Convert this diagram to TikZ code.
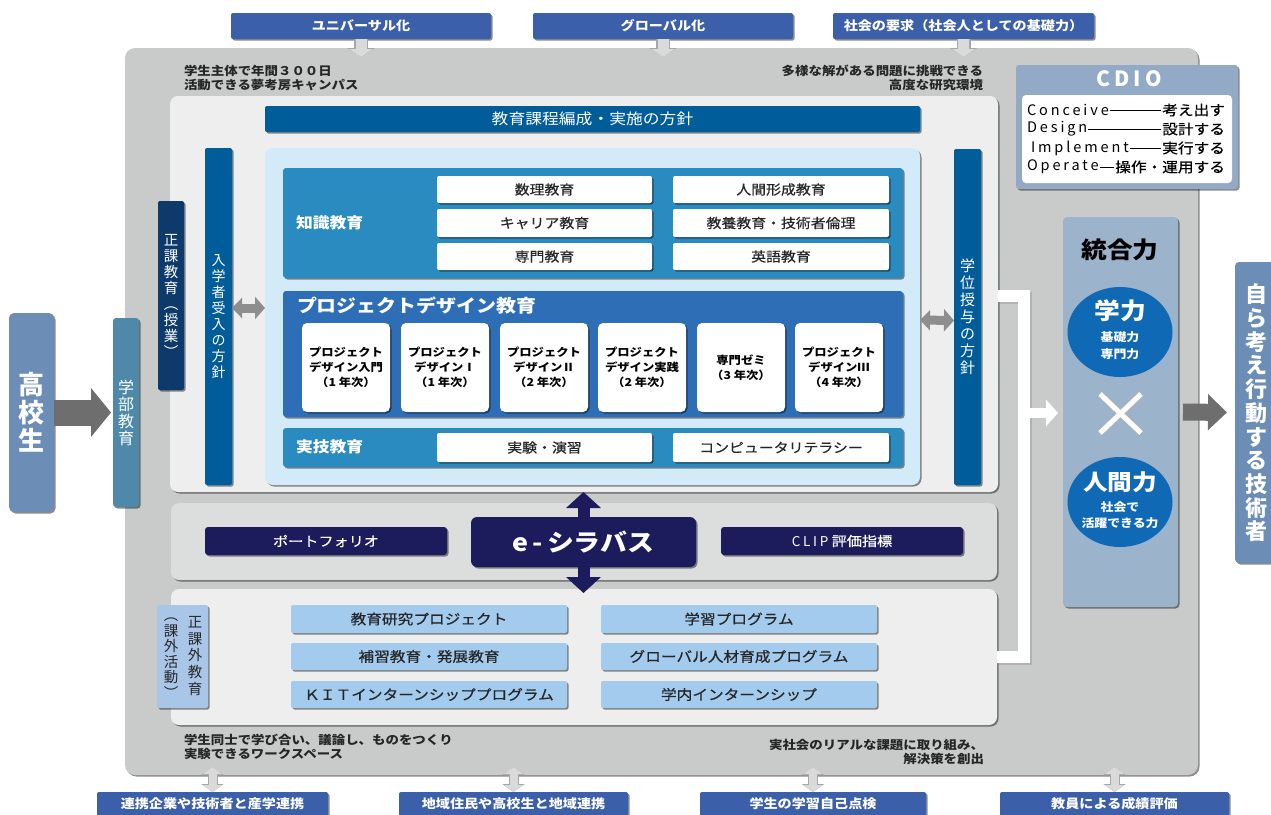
\documentclass[tikz,border=0pt]{standalone}
\usepackage{fontspec}
\setmainfont{Noto Sans CJK JP}[FakeStretch=1.12]
\newfontfamily\medfont{Noto Sans CJK JP}[FakeStretch=1.12,FakeBold=0.5]
\newfontfamily\vfont{Noto Sans CJK JP}
\newfontfamily\lsfont{Noto Sans CJK JP}[LetterSpace=20]
\usetikzlibrary{arrows.meta,shadows,shapes.geometric,calc}
\definecolor{topblue}{HTML}{3C5FA9}
\definecolor{panelgray}{HTML}{C9CACA}
\definecolor{lightpanel}{HTML}{EEEEEE}
\definecolor{midpanel}{HTML}{DCDDDD}
\definecolor{policy}{HTML}{005D9A}
\definecolor{navybar}{HTML}{0E3A6B}
\definecolor{lightblue}{HTML}{D3EAF8}
\definecolor{kblue}{HTML}{2A8BC1}
\definecolor{pdblue}{HTML}{2E6EB6}
\definecolor{navy}{HTML}{1C1C5C}
\definecolor{progblue}{HTML}{A2CBEE}
\definecolor{extrablue}{HTML}{A9C6E8}
\definecolor{steel}{HTML}{6B8DB6}
\definecolor{gakubucol}{HTML}{4E89AA}
\definecolor{togocol}{HTML}{9CB3CC}
\definecolor{circ}{HTML}{1069B5}
\definecolor{cdio}{HTML}{93AAC7}
\definecolor{arrowgray}{HTML}{6E6E6E}
\definecolor{midgray}{HTML}{8E8E8E}
\definecolor{palegray}{HTML}{DADADA}
\newcommand\myfs[2]{\fontsize{#1}{#2}\selectfont}
\newcommand\dbox[7]{\node[#6,minimum width={(#4-#2)*1pt},minimum height={(#5-#3)*1pt}] (#1) at ({(#2+#4)/2},{(#3+#5)/2}) {#7};}
\tikzset{
 base/.style={inner sep=0pt,outer sep=0pt,align=center},
 sh/.style={drop shadow={shadow xshift=1.5pt,shadow yshift=-1.5pt,opacity=.45,fill=black}},
 topbox/.style={base,fill=topblue,rounded corners=2pt,sh,text=white,font=\myfs{12.6}{14}\bfseries},
 note/.style={base,font=\myfs{12}{14}\bfseries,text=black!85},
 vbar/.style={base,rounded corners=2pt,text=white,sh},
 subbox/.style={base,fill=white,rounded corners=2pt,sh,text=black!85,font=\medfont\myfs{13.3}{15}},
 projbox/.style={base,fill=white,rounded corners=5pt,sh,text=black,font=\myfs{11}{15}\bfseries},
 navybox/.style={base,fill=navy,rounded corners=3pt,sh,text=white},
 progbox/.style={base,fill=progblue,rounded corners=2pt,sh,text=black!85,font=\medfont\myfs{14}{16}},
 panel/.style={base,rounded corners=8pt,sh},
 lbl/.style={base,text=white,font=\myfs{15}{17}\bfseries,anchor=west},
 cdl/.style={base,anchor=west,font=\lsfont\myfs{14.5}{16}},
 cdj/.style={base,anchor=east,font=\medfont\myfs{14}{15}},
 bigarr/.style={draw=arrowgray,line width=26pt,-{Triangle[length=20pt,width=48pt]}},
 dkarr/.style={draw=arrowgray,line width=17pt,-{Triangle[length=19pt,width=35pt]}},
 grarr/.style={draw=midgray,line width=9pt,{Triangle[length=10pt,width=20pt]}-{Triangle[length=10pt,width=22pt]}},
 navarr/.style={draw=navy,line width=12pt,-{Triangle[length=16pt,width=34pt]}},
 toparrO/.style={draw=black!35,line width=14pt,-{Triangle[length=9pt,width=27pt]}},
 toparr/.style={draw=palegray,line width=11pt,-{Triangle[length=8pt,width=23pt]}},
 botarrO/.style={draw=black!35,line width=10pt,{Triangle[length=8pt,width=22pt]}-{Triangle[length=8pt,width=22pt]}},
 botarr/.style={draw=palegray,line width=8pt,{Triangle[length=7pt,width=19pt]}-{Triangle[length=7pt,width=19pt]}},
 whitearr/.style={draw=white,line width=10pt,-{Triangle[length=12pt,width=26pt]}},
}
\begin{document}
\begin{tikzpicture}[x=1pt,y=-1pt]
\useasboundingbox (0,0) rectangle (1271,814);
% big panel
\dbox{big}{125}{48}{1198}{775}{base,fill=panelgray,rounded corners=10pt,sh}{}
% top boxes
\dbox{t1}{231}{13}{491}{39}{topbox}{ユニバーサル化}
\dbox{t2}{533}{13}{793}{39}{topbox}{グローバル化}
\dbox{t3}{833}{13}{1094}{39}{topbox}{社会の要求（社会人としての基礎力）}
\coordinate (ta1) at ($(t1.south)+(0,18)$);
\coordinate (ta2) at ($(t2.south)+(0,18)$);
\coordinate (ta3) at ($(t3.south)+(0,18)$);
\foreach \i in {1,2,3}{\draw[toparrO] (t\i.south) -- (ta\i); \draw[toparr] (t\i.south) -- (ta\i);}
% notes
\node[note,anchor=west,align=left] (n1) at (184,78) {学生主体で年間３００日\\活動できる夢考房キャンパス};
\node[note,anchor=east,align=right] (n2) at (983,78) {多様な解がある問題に挑戦できる\\高度な研究環境};
\node[note,anchor=west,align=left] (n3) at (184,747) {学生同士で学び合い、議論し、ものをつくり\\実験できるワークスペース};
\node[note,anchor=east,align=right] (n4) at (984,752) {実社会のリアルな課題に取り組み、\\解決策を創出};
% CDIO
\dbox{cdio}{1016}{65}{1238}{189}{base,fill=cdio,rounded corners=3pt,sh}{}
\node[base,text=white,font=\lsfont\myfs{21}{24}\bfseries] (cdiot) at (1129,79) {CDIO};
\dbox{cdioin}{1022}{95}{1232}{183}{base,fill=white,rounded corners=4pt}{}
\node[cdl] (ca) at (1027,110) {Conceive};
\node[cdj] (caj) at (1225,110) {考え出す};
\node[cdl] (cb) at (1027,129) {Design};
\node[cdj] (cbj) at (1225,129) {設計する};
\node[cdl] (cc) at (1031,148) {Implement};
\node[cdj] (ccj) at (1225,148) {実行する};
\node[cdl] (cd) at (1027,167) {Operate};
\node[cdj] (cdj) at (1225,167) {操作・運用する};
\foreach \a in {a,b,c,d}{\draw[line width=0.6pt,shorten <=1pt,shorten >=1pt] (c\a.east) -- (c\a j.west);}
% upper panel
\dbox{upper}{170}{96}{998}{492}{panel,fill=lightpanel}{}
\dbox{policy}{265}{106}{920}{132}{base,fill=policy,rounded corners=2pt,sh,text=white,font=\myfs{15}{17}}{教育課程編成・実施の方針}
\dbox{seika}{158}{201}{184}{390}{vbar,fill=navybar,font=\vfont\myfs{14.5}{16}}{正\\課\\教\\育\\︵\\授\\業\\︶}
\dbox{nyu}{205}{148}{232}{485}{vbar,fill=policy,font=\vfont\myfs{14}{16}}{入\\学\\者\\受\\入\\の\\方\\針}
\dbox{gakui}{954}{149}{981}{485}{vbar,fill=policy,font=\vfont\myfs{15}{17}}{学\\位\\授\\与\\の\\方\\針}
\dbox{lb}{265}{148}{920}{485}{panel,fill=lightblue}{}
% knowledge
\dbox{chishiki}{283}{168}{903}{278}{base,fill=kblue,rounded corners=3pt,sh}{}
\node[lbl] (chl) at (296,223) {知識教育};
\dbox{k1}{437}{176}{652}{203}{subbox}{数理教育}
\dbox{k2}{673}{176}{889}{203}{subbox}{人間形成教育}
\dbox{k3}{437}{209}{652}{237}{subbox}{キャリア教育}
\dbox{k4}{673}{209}{889}{237}{subbox}{教養教育・技術者倫理}
\dbox{k5}{437}{243}{652}{270}{subbox}{専門教育}
\dbox{k6}{673}{243}{889}{270}{subbox}{英語教育}
% project design
\dbox{pd}{283}{291}{903}{417}{base,fill=pdblue,rounded corners=3pt,sh}{}
\node[lbl,font=\myfs{17.8}{20}\bfseries] (pdl) at (297,306) {プロジェクトデザイン教育};
\dbox{p1}{302}{323}{390}{412}{projbox}{プロジェクト\\デザイン入門\\（1 年次）}
\dbox{p2}{401}{323}{489}{412}{projbox}{プロジェクト\\デザインⅠ\\（1 年次）}
\dbox{p3}{500}{323}{588}{412}{projbox}{プロジェクト\\デザインⅡ\\（2 年次）}
\dbox{p4}{598}{323}{686}{412}{projbox}{プロジェクト\\デザイン実践\\（2 年次）}
\dbox{p5}{697}{323}{785}{412}{projbox}{専門ゼミ\\（3 年次）}
\dbox{p6}{795}{323}{883}{412}{projbox}{プロジェクト\\デザインⅢ\\（4 年次）}
% practical
\dbox{jitsu}{283}{428}{903}{467}{base,fill=kblue,rounded corners=3pt,sh}{}
\node[lbl] (jl) at (296,447) {実技教育};
\dbox{j1}{437}{433}{652}{462}{subbox}{実験・演習}
\dbox{j2}{673}{433}{889}{462}{subbox}{コンピュータリテラシー}
% gray arrows
\draw[grarr] ([yshift=8.5pt]nyu.east) -- ([yshift=8.5pt]lb.west);
\draw[grarr] ([yshift=-3.5pt]lb.east) -- ([yshift=-3.5pt]gakui.west);
% middle
\dbox{mid}{171}{503}{997}{580}{panel,fill=midpanel}{}
\dbox{lower}{171}{589}{997}{725}{panel,fill=lightpanel}{}
\dbox{port}{205}{527}{447}{555}{navybox,font=\medfont\myfs{13.5}{15}}{ポートフォリオ}
\dbox{eshi}{471}{517}{696}{567}{navybox,rounded corners=6pt,font=\myfs{24}{26}\bfseries}{e\,-\,シラバス}
\dbox{clip}{721}{527}{963}{555}{navybox,font=\medfont\myfs{13.5}{15}}{{\lsfont CLIP} 評価指標}
\draw[navarr] (eshi.north) -- (eshi.north |- upper.south);
\draw[navarr] (eshi.south) -- ($(eshi.south |- lower.north)+(0,4)$);
% lower
\dbox{extra}{157}{605}{208}{708}{base,fill=extrablue,rounded corners=2pt,sh}{}
\node[base,text=black!85,font=\vfont\myfs{14.5}{16.8}] (exr) at (195,656) {正\\課\\外\\教\\育};
\node[base,text=black!85,font=\vfont\myfs{14.5}{15.5}] (exl) at (171,658) {︵\\課\\外\\活\\動\\︶};
\dbox{g1}{291}{605}{567}{633}{progbox}{教育研究プロジェクト}
\dbox{g2}{601}{605}{877}{633}{progbox}{学習プログラム}
\dbox{g3}{291}{643}{567}{670}{progbox}{補習教育・発展教育}
\dbox{g4}{601}{643}{877}{670}{progbox}{グローバル人材育成プログラム}
\dbox{g5}{291}{681}{567}{708}{progbox}{ＫＩＴインターンシッププログラム}
\dbox{g6}{601}{681}{877}{708}{progbox}{学内インターンシップ}
% bottom boxes
\dbox{b1}{97}{792}{328}{816}{topbox}{連携企業や技術者と産学連携}
\dbox{b2}{399}{792}{628}{816}{topbox}{地域住民や高校生と地域連携}
\dbox{b3}{700}{792}{926}{816}{topbox}{学生の学習自己点検}
\dbox{b4}{1000}{792}{1229}{816}{topbox}{教員による成績評価}
\foreach \i in {1,2,3,4}{\coordinate (d\i) at ($(b\i.north)+(0,-25)$);
 \draw[botarrO] (d\i) -- (b\i.north); \draw[botarr] (d\i) -- (b\i.north);}
% left side
\dbox{hs}{9}{313}{54}{512}{base,fill=steel,rounded corners=5pt,sh,text=white,font=\vfont\myfs{26}{28}\bfseries}{高\\校\\生}
\dbox{gakubu}{113}{318}{139}{507}{base,fill=gakubucol,rounded corners=3pt,sh,text=white,font=\vfont\myfs{16}{17}}{学\\部\\教\\育}
\draw[bigarr,shorten >=2pt] (hs.east) -- (gakubu.west);
% right side
\dbox{togo}{1063}{217}{1178}{607}{base,fill=togocol,rounded corners=4pt,sh}{}
\node[base,font=\myfs{23}{26}\bfseries] (togot) at (1120,250) {統合力};
\node[base,ellipse,fill=circ,minimum width=105pt,minimum height=90pt] (ca1) at (1120,332) {};
\node[base,text=white,font=\myfs{23}{26}\bfseries] (ca1t) at (1120,311) {学力};
\node[base,text=white,font=\myfs{11.5}{17}\bfseries] (ca1s) at (1120,346) {基礎力\\専門力};
\node[base,ellipse,fill=circ,minimum width=105pt,minimum height=90pt] (ca2) at (1120,502) {};
\node[base,text=white,font=\myfs{22}{26}\bfseries] (ca2t) at (1120,482) {人間力};
\node[base,text=white,font=\myfs{11.5}{16}\bfseries] (ca2s) at (1120,515) {社会で\\活躍できる力};
\draw[line width=7pt,black!30] (1100,394) -- (1141,433) (1141,394) -- (1100,433);
\draw[line width=5pt,white] (1100,394) -- (1141,433) (1141,394) -- (1100,433);
\dbox{jiko}{1235}{262}{1280}{563}{base,fill=steel,rounded corners=4pt,sh}{}
\node[base,text=white,font=\vfont\myfs{22}{23.7}\bfseries] (jikot) at (1256,413) {自\\ら\\考\\え\\行\\動\\す\\る\\技\\術\\者};
\draw[dkarr,shorten <=5pt,shorten >=8pt] (togo.east) -- (jiko.west);
% bracket
\coordinate (brt) at (1024,296);
\coordinate (brb) at (1024,657);
\coordinate (brm) at (1024,413);
\draw[black!30,line width=12pt,transform canvas={shift={(1.5pt,-1.5pt)}}] (upper.east |- brt) -- (brt) -- (brb) -- (lower.east |- brb);
\draw[white,line width=12pt] (upper.east |- brt) -- (brt) -- (brb) -- (lower.east |- brb);
\draw[whitearr] (brm) -- ($(togo.west |- brm)+(-5,0)$);
\end{tikzpicture}
\end{document}
